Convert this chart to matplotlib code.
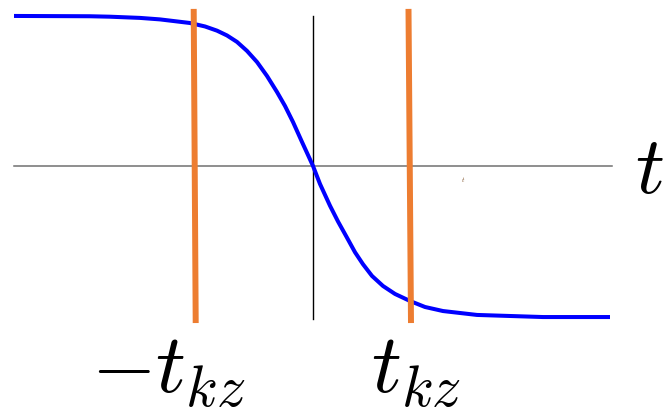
import numpy as np
import matplotlib
matplotlib.use("Agg")
import matplotlib.pyplot as plt

plt.rcParams["mathtext.fontset"] = "cm"

# curve points (t, value)
t_vals = [-2.99, -2.23, -2.03, -1.73, -1.53, -1.43, -1.23, -1.08, -0.96, -0.86,
          -0.76, -0.66, -0.56, -0.46, -0.36, -0.28, -0.20, -0.11, -0.05, 0.0,
          0.07, 0.17, 0.25, 0.34, 0.42, 0.50, 0.59, 0.70, 0.82, 0.97,
          1.12, 1.30, 1.47, 1.64, 2.30, 2.97]
y_vals = [1.0, 0.998, 0.995, 0.987, 0.977, 0.969, 0.953, 0.93, 0.902, 0.87,
          0.827, 0.767, 0.693, 0.60, 0.493, 0.40, 0.293, 0.16, 0.073, 0.0,
          -0.12, -0.265, -0.37, -0.478, -0.575, -0.655, -0.733, -0.80, -0.853, -0.90,
          -0.94, -0.967, -0.98, -0.993, -1.007, -1.007]

# orange marker lines (slightly slanted): x at top, x at bottom
left_line = [-1.193, -1.173]
right_line = [0.955, 0.98]
line_y = [1.047, -1.047]

labels = [r"$-t_{kz}$", r"$t_{kz}$"]

fig = plt.figure(figsize=(6.64, 4.10), dpi=100)
ax = fig.add_axes([0, 0, 1, 1])
ax.set_xlim(-3.13, 3.51)
ax.set_ylim(-1.62, 1.113)
ax.axis("off")

# axes lines
ax.plot([-2.99, 2.99], [0, 0], color="#707070", lw=1.1)
ax.plot([0, 0], [1.0, -1.02], color="black", lw=1.0)

ax.plot(t_vals, y_vals, color="#0000ff", lw=2.9, solid_capstyle="butt",
        solid_joinstyle="round")

ax.plot(left_line, line_y, color="#ed7d31", lw=4.3, solid_capstyle="butt")
ax.plot(right_line, line_y, color="#ed7d31", lw=4.3, solid_capstyle="butt")

ax.text(-2.22, -1.507, labels[0], fontsize=60, ha="left", va="baseline")
ax.text(0.58, -1.507, labels[1], fontsize=60, ha="left", va="baseline")
ax.text(3.22, -0.173, r"$t$", fontsize=58, ha="left", va="baseline")
ax.text(1.48, -0.10, r"$t$", fontsize=5, color="#7a4a20", ha="left", va="baseline")

fig.savefig("out.png", dpi=100)
